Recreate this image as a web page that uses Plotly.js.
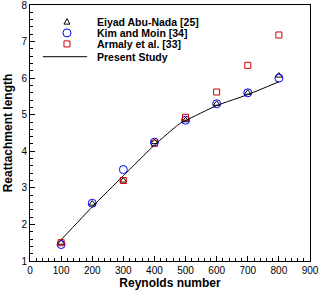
<!DOCTYPE html>
<html>
<head>
<meta charset="utf-8">
<script src="https://cdn.plot.ly/plotly-3.0.1.min.js"></script>
<style>html,body{margin:0;padding:0;background:#fff}#chart{width:320px;height:291px}</style>
</head>
<body>
<div id="chart"></div>
<script>
const reynolds = [100, 200, 300, 400, 500, 600, 700, 800];
const abuNada = [1.5, 2.57, 3.2, 4.25, 4.85, 5.3, 5.6, 6.07];
const kimMoin = [1.45, 2.58, 3.5, 4.25, 4.85, 5.3, 5.6, 6.0];
const armalyRe = [100, 300, 400, 500, 600, 700, 800];
const armaly = [1.5, 3.2, 4.22, 4.93, 5.62, 6.35, 7.18];
const presentRe = [100, 200, 300, 400, 480, 500, 600, 700, 800];
const present = [1.58, 2.48, 3.33, 4.17, 4.75, 4.84, 5.25, 5.55, 5.9];
const seriesNames = ['Eiyad Abu-Nada [25]', 'Kim and Moin [34]', 'Armaly et al. [33]', 'Present Study'];

const fam = 'Arial, "Liberation Sans", sans-serif';
const font = {family: fam, size: 10, color: '#000'};
const boldFont = {family: fam, size: 12, color: '#000', weight: 'bold'};
const legFont = {family: fam, size: 10.5, color: '#000', weight: 'bold'};

const traces = [
  {x: reynolds, y: abuNada, name: seriesNames[0], mode: 'markers', type: 'scatter',
   marker: {symbol: 'triangle-up-open', size: 6, color: '#000', line: {width: 1}}},
  {x: reynolds, y: kimMoin, name: seriesNames[1], mode: 'markers', type: 'scatter',
   marker: {symbol: 'circle-open', size: 8, color: '#0000ff', line: {width: 1}}},
  {x: armalyRe, y: armaly, name: seriesNames[2], mode: 'markers', type: 'scatter',
   marker: {symbol: 'square-open', size: 6, color: '#cc0000', line: {width: 1}}},
  {x: presentRe, y: present, name: seriesNames[3], mode: 'lines', type: 'scatter',
   line: {color: '#000', width: 1, shape: 'spline', smoothing: 0.5}}
];

// manual legend (tighter row spacing than Plotly's built-in legend)
const rowY = [0.935, 0.891, 0.848, 0.798];
const symX = 0.132, textX = 0.232;
const annotations = seriesNames.map((n, i) => ({
  xref: 'paper', yref: 'paper', x: textX, y: rowY[i], xanchor: 'left', yanchor: 'middle',
  text: n, showarrow: false, font: legFont
}));
const shapes = [
  {type: 'path', xref: 'paper', yref: 'paper', xsizemode: 'pixel', ysizemode: 'pixel',
   xanchor: symX, yanchor: rowY[0], path: 'M-3,-2.5L3,-2.5L0,3Z', line: {color: '#000', width: 1}},
  {type: 'circle', xref: 'paper', yref: 'paper', xsizemode: 'pixel', ysizemode: 'pixel',
   xanchor: symX, yanchor: rowY[1], x0: -4, x1: 4, y0: -4, y1: 4, line: {color: '#0000ff', width: 1}},
  {type: 'rect', xref: 'paper', yref: 'paper', xsizemode: 'pixel', ysizemode: 'pixel',
   xanchor: symX, yanchor: rowY[2], x0: -3, x1: 3, y0: -3, y1: 3, line: {color: '#cc0000', width: 1}},
  {type: 'line', xref: 'paper', yref: 'paper', x0: 0.046, x1: 0.204, y0: rowY[3], y1: rowY[3],
   line: {color: '#000', width: 1}}
];

const layout = {
  width: 320, height: 291,
  margin: {l: 30, r: 10, t: 5, b: 30},
  paper_bgcolor: '#fff', plot_bgcolor: '#fff',
  font: font,
  showlegend: false,
  annotations: annotations,
  shapes: shapes,
  xaxis: {range: [0, 900], dtick: 100, tick0: 0, ticks: 'inside', ticklen: 5, tickwidth: 1, tickcolor: '#000',
          minor: {dtick: 20, ticks: 'inside', ticklen: 3, tickcolor: '#000', tickwidth: 1},
          showgrid: false, zeroline: false, showline: true, linecolor: '#000', linewidth: 1, mirror: true,
          tickfont: font, ticklabeloverflow: 'allow',
          title: {text: 'Reynolds number', standoff: 3, font: boldFont}},
  yaxis: {range: [1, 8], dtick: 1, tick0: 0, ticks: 'inside', ticklen: 5, tickwidth: 1, tickcolor: '#000',
          minor: {dtick: 0.2, ticks: 'inside', ticklen: 3, tickcolor: '#000', tickwidth: 1},
          showgrid: false, zeroline: false, showline: true, linecolor: '#000', linewidth: 1, mirror: true,
          tickfont: font, ticklabeloverflow: 'allow',
          title: {text: 'Reattachment length', standoff: 6, font: boldFont}}
};
Plotly.newPlot('chart', traces, layout, {displayModeBar: false, staticPlot: true});
</script>
</body>
</html>
